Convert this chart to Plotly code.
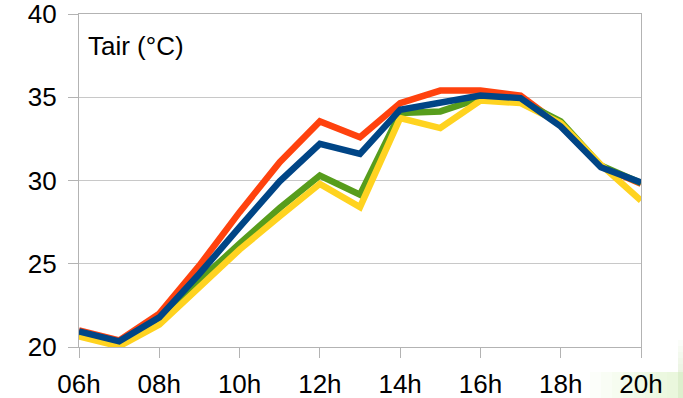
import plotly.graph_objects as go

hours = [6, 7, 8, 9, 10, 11, 12, 13, 14, 15, 16, 17, 18, 19, 20]
tick_vals = [6, 8, 10, 12, 14, 16, 18, 20]
tick_text = ["06h", "08h", "10h", "12h", "14h", "16h", "18h", "20h"]

tair_red = [21.0, 20.4, 22.0, 24.9, 28.1, 31.1, 33.55, 32.6, 34.65, 35.4, 35.4, 35.1, 33.3, 30.85, 29.8]
tair_green = [20.75, 20.15, 21.6, 24.0, 26.2, 28.35, 30.3, 29.15, 34.05, 34.15, 34.95, 34.8, 33.55, 30.9, 29.85]
tair_yellow = [20.64, 20.04, 21.34, 23.6, 25.85, 27.85, 29.8, 28.4, 33.75, 33.15, 34.8, 34.65, 33.45, 30.95, 28.8]
tair_blue = [20.94, 20.34, 21.78, 24.4, 27.2, 29.95, 32.2, 31.6, 34.25, 34.65, 35.1, 34.95, 33.25, 30.8, 29.88]

series = [
    (tair_red, "#ff420e"),
    (tair_green, "#579d1c"),
    (tair_yellow, "#ffd320"),
    (tair_blue, "#004586"),
]

fig = go.Figure()
for vals, color in series:
    fig.add_trace(go.Scatter(
        x=hours, y=vals, mode="lines",
        line=dict(color=color, width=6.5),
        showlegend=False, hoverinfo="skip", cliponaxis=False,
    ))

W, H = 683, 398
L, R, T, B = 79, 42, 14, 51
pw, ph = W - L - R, H - T - B


def px_x(px):
    return (px - L) / pw


def px_y(py):
    return (H - B - py) / ph


# faint green wash in the lower-right corner of the page
shapes = []
for i in range(8):
    x0 = 590 + i * 11
    shapes.append(dict(
        type="rect", xref="paper", yref="paper", layer="below",
        x0=px_x(x0), x1=px_x(W + 5), y0=px_y(H + 5), y1=px_y(372),
        fillcolor="#d6eabb", opacity=0.07, line=dict(width=0),
    ))
for i in range(6):
    y0 = 340 + i * 6
    shapes.append(dict(
        type="rect", xref="paper", yref="paper", layer="below",
        x0=px_x(678), x1=px_x(W + 5), y0=px_y(H + 5), y1=px_y(y0),
        fillcolor="#d6eabb", opacity=0.09, line=dict(width=0),
    ))

fig.update_layout(
    width=W, height=H,
    margin=dict(l=L, r=R, t=T, b=B, pad=0, autoexpand=False),
    paper_bgcolor="white", plot_bgcolor="white",
    font=dict(family="Liberation Sans, Arial, sans-serif", color="black"),
    shapes=shapes,
    annotations=[dict(
        text="Tair (°C)", xref="paper", yref="paper",
        x=px_x(86), y=px_y(46), xanchor="left", yanchor="middle",
        showarrow=False, font=dict(size=26, color="black"),
    )],
    xaxis=dict(
        range=[6, 20], tickvals=tick_vals, ticktext=tick_text,
        showgrid=False, zeroline=False, automargin=False,
        showline=True, linecolor="#b3b3b3", linewidth=1.2, mirror=True,
        ticks="outside", ticklen=10, tickcolor="#b3b3b3", tickwidth=1.2,
        tickfont=dict(size=26), ticklabelstandoff=4,
        ticklabeloverflow="allow", fixedrange=True,
    ),
    yaxis=dict(
        range=[20, 40], dtick=5, tick0=20,
        showgrid=True, gridcolor="#c8c8c8", gridwidth=1.2,
        zeroline=False, automargin=False,
        showline=True, linecolor="#b3b3b3", linewidth=1.2, mirror=True,
        ticks="outside", ticklen=10, tickcolor="#b3b3b3", tickwidth=1.2,
        tickfont=dict(size=26), ticklabelstandoff=6,
        ticklabeloverflow="allow", fixedrange=True,
    ),
)

fig.write_html("out.html")
